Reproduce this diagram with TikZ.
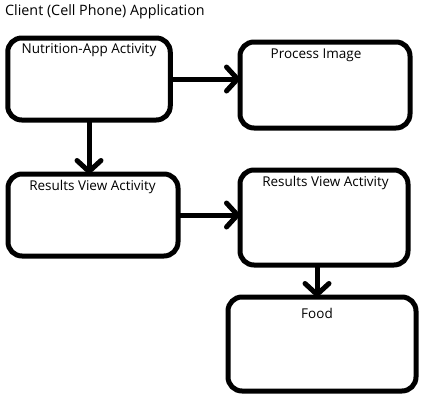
\documentclass[tikz,border=0pt]{standalone}
\usepackage{fontspec}
\setmainfont{Open Sans}
\usetikzlibrary{arrows.meta}
\begin{document}
\begin{tikzpicture}[x=1pt,y=-1pt,
  box/.style={draw=black,line width=5pt,rounded corners=14pt,outer sep=0pt,inner sep=0pt},
  lbl/.style={font=\fontsize{13.5}{15}\selectfont,text=black,inner sep=0pt},
  conn/.style={line width=5pt,-{Straight Barb[length=11pt,width=24pt,round]}}]
\useasboundingbox (0,0) rectangle (430,402);
\node[lbl,anchor=west,font=\fontsize{14.3}{16}\selectfont] (title) at (5,12) {Client (Cell Phone) Application};
\node[box,minimum width=162.5pt,minimum height=82pt] (b1) at (89,79) {};
\node[box,minimum width=170pt,minimum height=86pt] (b2) at (325,85) {};
\node[box,minimum width=170pt,minimum height=82pt] (b3) at (93,215) {};
\node[box,minimum width=168pt,minimum height=95pt] (b4) at (324,217.5) {};
\node[box,minimum width=188pt,minimum height=94pt] (b5) at (322,344) {};
\node[lbl] (t1) at (89,50) {Nutrition-App Activity};
\node[lbl] (t2) at (316,55) {Process Image};
\node[lbl] (t3) at (92.5,187) {Results View Activity};
\node[lbl] (t4) at (325.5,183) {Results View Activity};
\node[lbl] (t5) at (317,313) {Food};
\draw[conn] (b1.east) -- (b1.east -| b2.west);
\draw[conn] (b1.south) -- (b1.south |- b3.north);
\draw[conn] (b3.east) -- (b3.east -| b4.west);
\coordinate (c4) at ([xshift=-7pt]b4.south);
\draw[conn] (c4) -- (c4 |- b5.north);
\end{tikzpicture}
\end{document}
